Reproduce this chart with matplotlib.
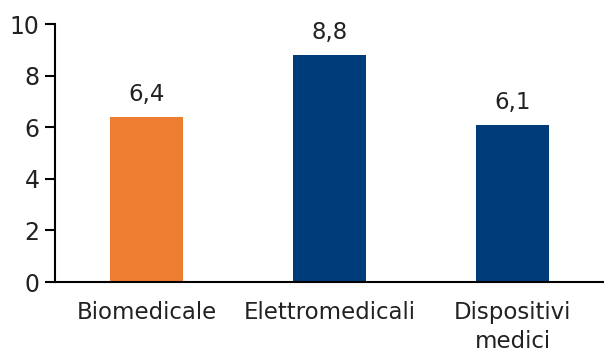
import matplotlib.pyplot as plt

# valori per comparto
categorie = ['Biomedicale', 'Elettromedicali', 'Dispositivi\nmedici']
valori = [6.4, 8.8, 6.1]
etichette = ['6,4', '8,8', '6,1']
colori = ['#ED7D31', '#003B7A', '#003B7A']

plt.rcParams['font.family'] = ['DejaVu Sans']

fig = plt.figure(figsize=(6.04, 3.53), dpi=100)
ax = fig.add_axes([0.091, 0.201, 0.909, 0.731])

x = range(len(categorie))
barre = ax.bar(x, valori, width=0.4, color=colori)

for b, lab in zip(barre, etichette):
    ax.annotate(lab, (b.get_x() + b.get_width() / 2, b.get_height()),
                xytext=(0, 8), textcoords='offset points',
                ha='center', va='bottom', fontsize=16.5, color='#222222')

ax.set_xlim(-0.5, 2.5)
ax.set_ylim(0, 10)
ax.set_yticks([0, 2, 4, 6, 8, 10])
ax.set_xticks(list(x))
ax.set_xticklabels(categorie, fontsize=16.5, color='#222222', linespacing=1.3)
ax.tick_params(axis='y', labelsize=17, labelcolor='#222222', length=7, width=1.5, pad=4)
ax.tick_params(axis='x', length=0, pad=14)

ax.spines['top'].set_visible(False)
ax.spines['right'].set_visible(False)
ax.spines['left'].set_linewidth(1.5)
ax.spines['bottom'].set_linewidth(1.5)

plt.savefig('out.png', dpi=100)
